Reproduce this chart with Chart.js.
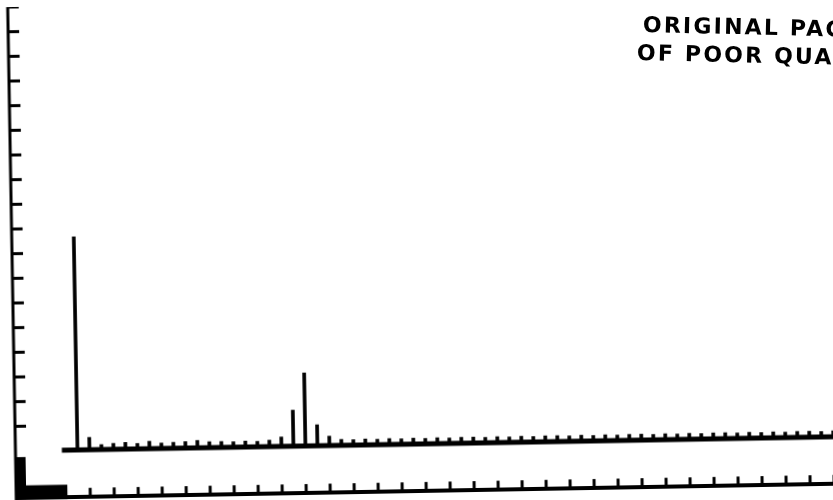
<!DOCTYPE html>
<html>
<head>
<meta charset="utf-8">
<script src="https://cdn.jsdelivr.net/npm/chart.js@4.4.1/dist/chart.umd.min.js"></script>
<style>
  html, body { margin: 0; padding: 0; background: #fff; }
  #wrap { position: relative; width: 833px; height: 500px; overflow: hidden; background: #fff; }
  #spectrum { position: absolute; left: 0; top: 0; width: 833px; height: 500px; transform: rotate(-1deg); }
  .stamp {
    position: absolute;
    font-family: "DejaVu Sans", sans-serif;
    font-weight: bold;
    font-size: 22px;
    letter-spacing: 2.2px;
    line-height: 28px;
    color: #000;
    white-space: nowrap;
    transform-origin: left center;
    transform: rotate(1.3deg);
  }
</style>
</head>
<body>
<div id="wrap">
  <canvas id="spectrum" width="833" height="500"></canvas>
  <div class="stamp" style="left:643px; top:11px;">ORIGINAL PAGE IS</div>
  <div class="stamp" style="left:637px; top:39px;">OF POOR QUALITY</div>
</div>
<script>
// Pulse-height spectrum: counts per channel (channel = index), in axis units
const counts = [
  8.64, 0.50, 0.20, 0.24, 0.27, 0.22, 0.30, 0.22, 0.24, 0.26,
  0.30, 0.24, 0.24, 0.22, 0.24, 0.22, 0.26, 0.38, 1.46, 2.96,
  0.85, 0.38, 0.24, 0.22, 0.24, 0.22, 0.24, 0.22, 0.24, 0.22,
  0.24, 0.22, 0.24, 0.24, 0.22, 0.24, 0.22, 0.24, 0.22, 0.24,
  0.24, 0.22, 0.24, 0.22, 0.24, 0.22, 0.24, 0.24, 0.22, 0.24,
  0.22, 0.24, 0.22, 0.24, 0.24, 0.22, 0.24, 0.22, 0.24, 0.22,
  0.24, 0.24, 0.22, 0.24
];

// Axis layout, in data units
const X_MIN = -6.17, X_MAX = 63.25;
const Y_MIN = -2.27, Y_MAX = 18.0;
const BASELINE_X = [-1.3, 64];
const Y_TICKS = [1, 2, 3, 4, 5, 6, 7, 8, 9, 10, 11, 12, 13, 14, 15, 16, 17, 18];
const X_TICKS = [1, 3, 5, 7, 9, 11, 13, 15, 17, 19, 21, 23, 25, 27, 29, 31,
                 33, 35, 37, 39, 41, 43, 45, 47, 49, 51, 53, 55, 57, 59, 61, 63];
const LEFT_AXIS_X = -5.17;
const BOTTOM_AXIS_Y = -1.91;

const INK = '#000';

// Hand-drawn style frame: inward ticks on the left and bottom axes
const scanAxes = {
  id: 'scanAxes',
  beforeDatasetsDraw(chart) {
    const { ctx, scales: { x, y } } = chart;
    const px = v => x.getPixelForValue(v);
    const py = v => y.getPixelForValue(v);
    const seg = (x1, y1, x2, y2) => { ctx.beginPath(); ctx.moveTo(x1, y1); ctx.lineTo(x2, y2); ctx.stroke(); };

    ctx.save();
    ctx.strokeStyle = INK;
    ctx.fillStyle = INK;
    ctx.lineCap = 'butt';

    // left axis + ticks
    const ax = px(LEFT_AXIS_X);
    const by = py(BOTTOM_AXIS_Y);
    ctx.lineWidth = 3;
    seg(ax, py(Y_MAX), ax, py(Y_MIN));
    for (const t of Y_TICKS) {
      seg(ax, py(t), px(LEFT_AXIS_X + 0.92), py(t));
    }

    // bottom axis + ticks
    ctx.lineWidth = 4;
    seg(ax, by, px(X_MAX), by);
    ctx.lineWidth = 3;
    for (const t of X_TICKS) {
      seg(px(t), by, px(t), by - 9);
    }

    // heavy corner where the two axes meet
    ctx.fillRect(ax, py(-0.25), 10, by - py(-0.25) + 2);
    ctx.fillRect(ax, py(-1.4), px(-0.9) - ax, by - py(-1.4) + 2);

    ctx.restore();
  }
};

new Chart(document.getElementById('spectrum'), {
  type: 'bar',
  data: {
    datasets: [
      {
        type: 'line',
        data: BASELINE_X.map(v => ({ x: v, y: 0 })),
        borderColor: INK,
        borderWidth: 5,
        pointRadius: 0,
        order: 2,
      },
      {
        type: 'bar',
        data: counts.map((c, i) => ({ x: i, y: c })),
        backgroundColor: INK,
        borderWidth: 0,
        barThickness: 3,
        order: 1,
      },
    ],
  },
  options: {
    responsive: false,
    animation: false,
    events: [],
    layout: { padding: 0 },
    plugins: {
      legend: { display: false },
      tooltip: { enabled: false },
    },
    scales: {
      x: { type: 'linear', min: X_MIN, max: X_MAX, offset: false, grid: { offset: false }, display: false },
      y: { type: 'linear', min: Y_MIN, max: Y_MAX, display: false },
    },
  },
  plugins: [scanAxes],
});
</script>
</body>
</html>
